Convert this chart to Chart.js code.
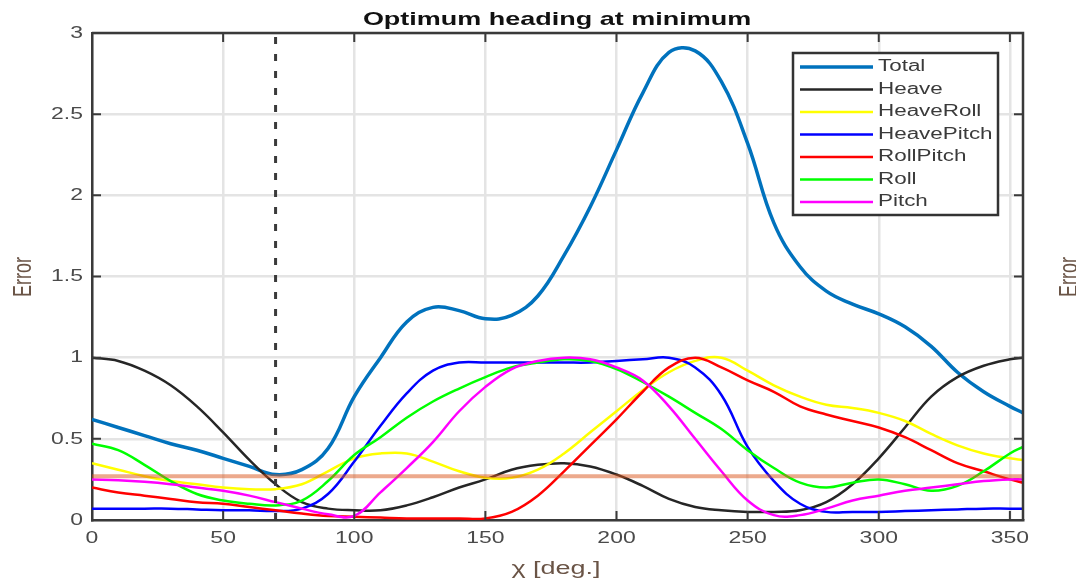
<!DOCTYPE html>
<html>
<head>
<meta charset="utf-8">
<title>Optimum heading at minimum</title>
<script src="https://cdn.jsdelivr.net/npm/chart.js"></script>
<style>
  html, body { margin: 0; padding: 0; background: #fff; }
  #wrap { width: 1076px; height: 585px; }
</style>
</head>
<body>
<div id="wrap"><canvas id="grafico"></canvas></div>
<script>
var heading    = [0,10,20,30,40,50,60,70,80,90,100,110,120,130,140,150,160,170,180,190,200,210,220,230,240,250,260,270,280,290,300,310,320,330,340,350,355];
var total      = [0.62,0.57,0.52,0.47,0.43,0.38,0.33,0.28,0.31,0.44,0.76,1.00,1.22,1.31,1.29,1.24,1.26,1.38,1.63,1.93,2.28,2.63,2.88,2.89,2.70,2.32,1.83,1.56,1.41,1.33,1.27,1.19,1.07,0.91,0.79,0.70,0.66];
var heave      = [1.00,0.98,0.92,0.83,0.70,0.54,0.37,0.22,0.11,0.07,0.06,0.06,0.09,0.14,0.20,0.25,0.31,0.34,0.35,0.33,0.28,0.21,0.13,0.08,0.06,0.05,0.05,0.06,0.11,0.22,0.38,0.57,0.76,0.88,0.95,0.99,1.00];
var heaveRoll  = [0.35,0.31,0.27,0.24,0.22,0.20,0.19,0.19,0.22,0.30,0.38,0.41,0.41,0.36,0.30,0.26,0.26,0.31,0.41,0.54,0.67,0.80,0.91,0.98,1.00,0.92,0.83,0.76,0.71,0.69,0.66,0.61,0.53,0.46,0.41,0.38,0.37];
var heavePitch = [0.07,0.07,0.07,0.07,0.065,0.06,0.06,0.055,0.07,0.16,0.36,0.58,0.78,0.92,0.97,0.97,0.97,0.97,0.97,0.97,0.98,0.99,1.00,0.94,0.77,0.45,0.24,0.10,0.05,0.05,0.05,0.055,0.06,0.065,0.07,0.07,0.07];
var rollPitch  = [0.20,0.17,0.15,0.13,0.11,0.10,0.08,0.06,0.04,0.025,0.02,0.015,0.01,0.01,0.01,0.01,0.05,0.15,0.30,0.46,0.62,0.79,0.94,1.00,0.94,0.86,0.79,0.70,0.65,0.61,0.57,0.51,0.43,0.35,0.30,0.25,0.23];
var roll       = [0.47,0.43,0.34,0.24,0.16,0.12,0.10,0.09,0.12,0.24,0.40,0.51,0.63,0.73,0.81,0.88,0.94,0.97,0.99,0.98,0.93,0.85,0.76,0.66,0.56,0.43,0.32,0.23,0.20,0.23,0.25,0.22,0.18,0.21,0.30,0.41,0.45];
var pitch      = [0.25,0.245,0.235,0.22,0.20,0.18,0.15,0.11,0.07,0.035,0.025,0.17,0.32,0.48,0.67,0.82,0.93,0.98,1.00,0.99,0.94,0.86,0.70,0.50,0.30,0.12,0.03,0.03,0.07,0.12,0.15,0.18,0.20,0.22,0.24,0.25,0.25];

var minError   = 0.27;   // horizontal line
var optHeading = 70;     // dashed vertical line

var tickX = [0,50,100,150,200,250,300,350];
var tickY = [0,0.5,1,1.5,2,2.5,3];
var tickYLabels = ['0','0.5','1','1.5','2','2.5','3'];

function pts(ys) {
  return heading.map(function (h, i) { return { x: h, y: ys[i] }; });
}

function curve(label, ys, color, w, order) {
  return {
    label: label, data: pts(ys), borderColor: color, backgroundColor: color,
    borderWidth: w, pointRadius: 0, tension: 0.4, order: order
  };
}

var FONT = '"Liberation Sans", Arial, Helvetica, sans-serif';

// text in the reference is stretched sideways
function wideText(ctx, txt, x, y, sx, align) {
  ctx.save();
  ctx.translate(x, y);
  ctx.scale(sx, 1);
  ctx.textAlign = align;
  ctx.fillText(txt, 0, 0);
  ctx.restore();
}

function upText(ctx, txt, x, y, sy) {
  ctx.save();
  ctx.translate(x, y);
  ctx.rotate(-Math.PI / 2);
  ctx.scale(1, sy);
  ctx.textAlign = 'center';
  ctx.textBaseline = 'middle';
  ctx.fillText(txt, 0, 0);
  ctx.restore();
}

var decor = {
  id: 'decor',
  afterDraw: function (chart) {
    var ctx = chart.ctx, a = chart.chartArea;
    var sx = chart.scales.x, sy = chart.scales.y;
    ctx.save();

    // box
    ctx.strokeStyle = '#3a3a3a';
    ctx.lineWidth = 2.5;
    ctx.beginPath();
    ctx.moveTo(a.left, a.top); ctx.lineTo(a.right, a.top); ctx.lineTo(a.right, a.bottom);
    ctx.stroke();

    // inward ticks
    ctx.lineWidth = 2;
    ctx.beginPath();
    tickX.forEach(function (v) {
      var p = sx.getPixelForValue(v);
      ctx.moveTo(p, a.bottom); ctx.lineTo(p, a.bottom - 9);
      ctx.moveTo(p, a.top); ctx.lineTo(p, a.top + 9);
    });
    tickY.forEach(function (v) {
      var p = sy.getPixelForValue(v);
      ctx.moveTo(a.left, p); ctx.lineTo(a.left + 9, p);
      ctx.moveTo(a.right, p); ctx.lineTo(a.right - 9, p);
    });
    ctx.stroke();

    // tick labels
    ctx.fillStyle = '#4a4a4a';
    ctx.font = '17px ' + FONT;
    ctx.textBaseline = 'middle';
    tickX.forEach(function (v) {
      wideText(ctx, String(v), sx.getPixelForValue(v), 538, 1.35, 'center');
    });
    tickY.forEach(function (v, i) {
      wideText(ctx, tickYLabels[i], 83, sy.getPixelForValue(v), 1.35, 'right');
    });

    // title
    ctx.fillStyle = '#111';
    ctx.font = 'bold 19px ' + FONT;
    ctx.textBaseline = 'alphabetic';
    wideText(ctx, 'Optimum heading at minimum', 557, 25, 1.42, 'center');

    // axis titles
    ctx.fillStyle = '#6a5446';
    ctx.font = '18px ' + FONT;
    wideText(ctx, '\u03c7 [deg.]', 556, 574, 1.5, 'center');
    upText(ctx, 'Error', 24, 277, 1.4);
    upText(ctx, 'Error', 1070, 277, 1.4);   // cut-off label of the neighbouring plot

    // legend
    var lx = 793, ly = 53, lw = 205, lh = 162;
    ctx.fillStyle = '#fff';
    ctx.fillRect(lx, ly, lw, lh);
    ctx.strokeStyle = '#333';
    ctx.lineWidth = 2.5;
    ctx.strokeRect(lx, ly, lw, lh);
    ctx.font = '16px ' + FONT;
    ctx.textBaseline = 'middle';
    var row = 0;
    chart.data.datasets.forEach(function (ds) {
      if (!ds.label) return;
      var y = 67 + row * 22.5;
      ctx.strokeStyle = ds.borderColor;
      ctx.lineWidth = ds.borderWidth;
      ctx.setLineDash([]);
      ctx.beginPath(); ctx.moveTo(800, y); ctx.lineTo(873, y); ctx.stroke();
      ctx.fillStyle = '#3a3a3a';
      wideText(ctx, ds.label, 878, y, 1.4, 'left');
      row++;
    });
    ctx.restore();
  }
};

var ctx = document.getElementById('grafico').getContext('2d');
var chart = new Chart(ctx, {
  type: 'line',
  data: {
    datasets: [
      curve('Total', total, '#0072BD', 3.5, 0),
      curve('Heave', heave, '#262626', 2.5, -1),
      curve('HeaveRoll', heaveRoll, '#FFFF00', 2.5, -2),
      curve('HeavePitch', heavePitch, '#0000FF', 2.5, -3),
      curve('RollPitch', rollPitch, '#FF0000', 2.5, -4),
      curve('Roll', roll, '#00FF00', 2.5, -5),
      curve('Pitch', pitch, '#FF00FF', 2.5, -6),
      {
        label: '', data: [{ x: 0, y: minError }, { x: 355, y: minError }],
        borderColor: 'rgba(217,83,25,0.5)', borderWidth: 4, pointRadius: 0, order: -7
      },
      {
        label: '', data: [{ x: optHeading, y: 0 }, { x: optHeading, y: 3 }],
        borderColor: '#3a3a3a', borderWidth: 3, borderDash: [7, 10], pointRadius: 0, order: -8
      }
    ]
  },
  options: {
    responsive: true,
    maintainAspectRatio: false,
    animation: false,
    layout: { padding: { left: 0, top: 33, right: 53, bottom: 0 } },
    plugins: { legend: { display: false }, title: { display: false }, tooltip: { enabled: false } },
    scales: {
      x: {
        type: 'linear', min: 0, max: 355,
        afterBuildTicks: function (s) { s.ticks = tickX.map(function (v) { return { value: v }; }); },
        afterFit: function (s) { s.height = 65; },
        ticks: { display: false },
        grid: { color: '#e4e4e4', lineWidth: 2.5, drawTicks: false },
        border: { color: '#3a3a3a', width: 2.5 }
      },
      y: {
        min: 0, max: 3,
        afterBuildTicks: function (s) { s.ticks = tickY.map(function (v) { return { value: v }; }); },
        afterFit: function (s) { s.width = 92; },
        ticks: { display: false },
        grid: { color: '#e4e4e4', lineWidth: 2.5, drawTicks: false },
        border: { color: '#3a3a3a', width: 2.5 }
      }
    }
  },
  plugins: [decor]
});
</script>
</body>
</html>
